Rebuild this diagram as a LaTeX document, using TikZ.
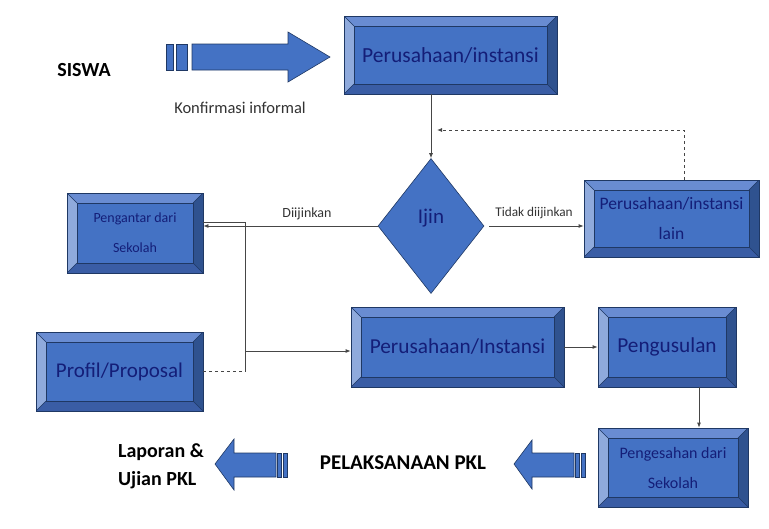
\documentclass[tikz,border=0pt]{standalone}
\usepackage{fontspec}
\setmainfont{Carlito}
\usetikzlibrary{shapes.geometric,arrows.meta}
\definecolor{mainblue}{RGB}{68,114,196}
\definecolor{bevlight}{RGB}{143,170,220}
\definecolor{bevtop}{RGB}{105,140,210}
\definecolor{bevdark}{RGB}{47,82,143}
\definecolor{bevbot}{RGB}{58,93,165}
\definecolor{bevline}{RGB}{31,56,100}
\definecolor{boxtext}{RGB}{20,30,120}
\definecolor{connc}{RGB}{70,70,70}
\tikzset{
  bevel/.style={rectangle, draw=bevline, line width=0.8pt, fill=mainblue, inner sep=0pt,
    text=boxtext, align=center,
    path picture={
      \def\bv{10pt}
      \fill[bevlight] (path picture bounding box.south west) -- (path picture bounding box.north west)
        -- ++(\bv,-\bv) -- ([shift={(\bv,\bv)}]path picture bounding box.south west) -- cycle;
      \fill[bevtop] (path picture bounding box.north west) -- (path picture bounding box.north east)
        -- ++(-\bv,-\bv) -- ([shift={(\bv,-\bv)}]path picture bounding box.north west) -- cycle;
      \fill[bevdark] (path picture bounding box.north east) -- (path picture bounding box.south east)
        -- ++(-\bv,\bv) -- ([shift={(-\bv,-\bv)}]path picture bounding box.north east) -- cycle;
      \fill[bevbot] (path picture bounding box.south east) -- (path picture bounding box.south west)
        -- ++(\bv,\bv) -- ([shift={(-\bv,\bv)}]path picture bounding box.south east) -- cycle;
      \draw[bevline, line width=0.6pt] ([shift={(\bv,\bv)}]path picture bounding box.south west)
        rectangle ([shift={(-\bv,-\bv)}]path picture bounding box.north east);
      \draw[bevline, line width=0.5pt] (path picture bounding box.south west) -- ++(\bv,\bv)
        (path picture bounding box.north west) -- ++(\bv,-\bv)
        (path picture bounding box.north east) -- ++(-\bv,-\bv)
        (path picture bounding box.south east) -- ++(-\bv,\bv);
    }},
  decision/.style={diamond, draw=bevline, line width=0.6pt, fill=mainblue, inner sep=0pt,
    aspect=0.785, minimum width=106pt, minimum height=135pt, text=boxtext},
  conn/.style={draw=connc, line width=0.8pt},
  tip/.style={-{Latex[length=5pt,width=4pt]}},
  blockarrow/.style={fill=mainblue, draw=bevline, line width=0.6pt},
  lbl/.style={text=black!80, inner sep=0pt},
  bold/.style={font=\fontsize{20}{24}\selectfont\bfseries, text=black, inner sep=0pt}
}
\begin{document}
\begin{tikzpicture}[x=1pt,y=-1pt]
\useasboundingbox (0,0) rectangle (769,528);
% boxes
\node[bevel, minimum width=213pt, minimum height=78pt, font=\fontsize{21.5}{24}\selectfont] (top) at (450.5,55) {Perusahaan/instansi};
\node[bevel, minimum width=136pt, minimum height=80pt, font=\fontsize{14}{30}\selectfont] (pengantar) at (135,233) {Pengantar dari\\Sekolah};
\node[decision] (ijin) at (431,226) {};
\node[text=boxtext, font=\fontsize{21}{24}\selectfont, inner sep=0pt] (ijintext) at (431,218) {Ijin};
\node[bevel, minimum width=175pt, minimum height=77pt, font=\fontsize{17.5}{30}\selectfont] (lain) at (671.5,218.5) {Perusahaan/instansi\\lain};
\node[bevel, minimum width=167pt, minimum height=79pt, font=\fontsize{21}{24}\selectfont] (profil) at (119.5,371.5) {Profil/Proposal};
\node[bevel, minimum width=213pt, minimum height=80pt, font=\fontsize{21.3}{24}\selectfont] (mid) at (457.5,347) {Perusahaan/Instansi};
\node[bevel, minimum width=138pt, minimum height=80pt, font=\fontsize{21.3}{24}\selectfont] (pengusulan) at (667,347) {Pengusulan};
\node[bevel, minimum width=150pt, minimum height=79pt, font=\fontsize{16}{30}\selectfont] (pengesahan) at (673,467.5) {Pengesahan dari\\Sekolah};
% free texts
\node[bold] (siswa) at (84,70) {SISWA};
\node[lbl, font=\fontsize{16.5}{18}\selectfont] (konf) at (240,108) {Konfirmasi informal};
\node[lbl, font=\fontsize{14}{16}\selectfont] (diij) at (307,214) {Diijinkan};
\node[lbl, font=\fontsize{13.3}{16}\selectfont] (tidak) at (534,213) {Tidak diijinkan};
\node[bold, align=left, font=\fontsize{20}{28}\selectfont\bfseries] (laporan) at (161,466) {Laporan \&\\Ujian PKL};
\node[bold, font=\fontsize{21}{24}\selectfont\bfseries] (pelak) at (403,463) {PELAKSANAAN PKL};
% connectors
\draw[conn, tip] (ijin.north |- top.south) -- (ijin.north);
\coordinate (dashend) at (437,130);
\draw[conn, dashed, tip] ([xshift=12.5pt]lain.north) |- (dashend);
\draw[conn, tip] (ijin.west) -- (ijin.west -| pengantar.east);
\draw[conn, tip, shorten <=5pt] (ijin.east) -- (ijin.east -| lain.west);
\coordinate (jbot) at (245,371.5);
\coordinate (jmid) at (245,351);
\draw[conn] ([yshift=11pt]pengantar.east) -| (jbot);
\draw[conn, dashed] (profil.east) -- (jbot);
\draw[conn, tip] (jmid) -- (jmid -| mid.west);
\draw[conn, tip] (mid.east) -- (pengusulan.west);
\draw[conn, tip] ([xshift=32pt]pengusulan.south) -- ([xshift=32pt]pengusulan.south |- pengesahan.north);
% block arrows
\draw[blockarrow] (192,44) -- (288,44) -- (288,32) -- (330,57) -- (288,82) -- (288,70) -- (192,70) -- cycle;
\draw[blockarrow] (166,44) rectangle (173,70);
\draw[blockarrow] (176,44) rectangle (187,70);
\draw[blockarrow] (276,453) -- (234,453) -- (234,439) -- (215,464) -- (234,490) -- (234,477) -- (276,477) -- cycle;
\draw[blockarrow] (277,453) rectangle (281,477);
\draw[blockarrow] (283,453) rectangle (287,477);
\draw[blockarrow] (574,453) -- (532,453) -- (532,440) -- (514,464) -- (532,489) -- (532,477) -- (574,477) -- cycle;
\draw[blockarrow] (575,453) rectangle (579,477);
\draw[blockarrow] (581,453) rectangle (585,477);
\end{tikzpicture}
\end{document}
